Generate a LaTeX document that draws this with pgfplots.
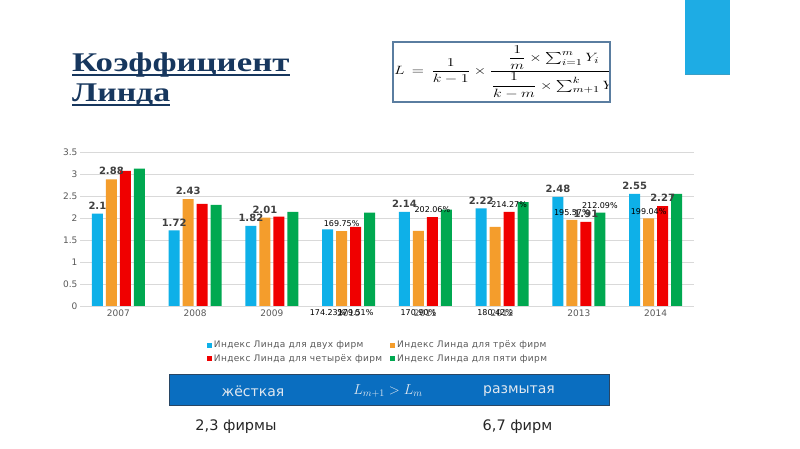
\documentclass[border=0pt]{standalone}
\usepackage{amsmath}
\usepackage{fontspec}
\setmainfont{DejaVu Sans}
\newfontfamily\titlefont{Liberation Serif}
\newfontfamily\legfont[LetterSpace=4]{DejaVu Sans}
\usepackage{pgfplots}
\pgfplotsset{compat=1.18}
\usepackage{pgfplotstable}

\definecolor{cblue}{RGB}{14,176,232}
\definecolor{corange}{RGB}{244,157,44}
\definecolor{cred}{RGB}{240,0,0}
\definecolor{cgreen}{RGB}{0,168,80}
\definecolor{gridgray}{RGB}{217,217,217}
\definecolor{tickgray}{RGB}{89,89,89}
\definecolor{labgray}{RGB}{64,64,64}
\definecolor{titleblue}{RGB}{23,55,94}
\definecolor{boxedge}{RGB}{90,125,160}
\definecolor{bandblue}{RGB}{10,110,192}
\definecolor{bandedge}{RGB}{40,70,100}
\definecolor{bandtext}{RGB}{225,232,240}
\definecolor{cornerblue}{RGB}{30,172,228}

% label styles used inside the tables
\protected\def\LB#1{{\fontsize{10}{10}\bfseries\color{labgray}#1}}
\protected\def\LP#1{{\fontsize{8}{8}\selectfont\color{black}#1\%}}

\pgfplotstableread{
x y top bot
0 2.10 \LB{2.1} {}
1 1.72 \LB{1.72} {}
2 1.82 \LB{1.82} {}
3 1.74 {} \LP{174.23}
4 2.14 \LB{2.14} {}
5 2.22 \LB{2.22} {}
6 2.48 \LB{2.48} {}
7 2.55 \LB{2.55} {}
}\tabtwo
\pgfplotstableread{
x y top bot
0 2.88 \LB{2.88} {}
1 2.43 \LB{2.43} {}
2 2.01 \LB{2.01} {}
3 1.70 \LP{169.75} {}
4 1.71 {} \LP{170.90}
5 1.80 {} \LP{180.42}
6 1.96 \LP{195.57} {}
7 1.99 \LP{199.04} {}
}\tabthree
\pgfplotstableread{
x y top bot
0 3.07 {} {}
1 2.32 {} {}
2 2.03 {} {}
3 1.80 {} \LP{179.51}
4 2.02 \LP{202.06} {}
5 2.14 \LP{214.27} {}
6 1.91 \LB{1.91} {}
7 2.27 \LB{2.27} {}
}\tabfour
\pgfplotstableread{
x y top bot
0 3.12 {} {}
1 2.30 {} {}
2 2.14 {} {}
3 2.12 {} {}
4 2.19 {} {}
5 2.36 {} {}
6 2.12 \LP{212.09} {}
7 2.55 {} {}
}\tabfive

\begin{document}
\begin{tikzpicture}[x=1pt,y=1pt]
\path[fill=white,use as bounding box] (0,0) rectangle (800,449);

% corner block
\fill[cornerblue] (685,374) rectangle (730,449);
\draw[cornerblue!70!gray, line width=1pt] (685,374.5) -- (730,374.5);

% title (the slide is stretched sideways)
\node[anchor=base west, inner sep=0, text=titleblue,
  font=\titlefont\bfseries\fontsize{27}{30}\selectfont] (t1) at (72,377)
  {\scalebox{1.29}[1]{Коэффициент}};
\node[anchor=base west, inner sep=0, text=titleblue,
  font=\titlefont\bfseries\fontsize{27}{30}\selectfont] (t2) at (72,347)
  {\scalebox{1.25}[1]{Линда}};
\fill[titleblue] (72,373) rectangle (t1.east |- 0,375);
\fill[titleblue] (72,343) rectangle (t2.east |- 0,345);

% formula box
\begin{scope}
\clip (393,347) rectangle (610,407);
\node[anchor=west, inner sep=0, font=\fontsize{13}{15}\selectfont] at (394,377)
  {\scalebox{1.33}[1]{$L \,=\, \dfrac{1}{k-1}\times\dfrac{\dfrac{1}{m}\times\sum_{i=1}^{m}Y_i}{\dfrac{1}{k-m}\times\sum_{m+1}^{k}Y_i}$}};
\end{scope}
\draw[boxedge, line width=1.5pt] (393,347) rectangle (610,407);

\begin{axis}[
  at={(80pt,143pt)}, anchor=south west,
  scale only axis, width=614pt, height=154pt,
  xmin=-0.5, xmax=7.5, ymin=0, ymax=3.5,
  clip=false,
  axis line style={draw=none},
  tick style={draw=none},
  ymajorgrids, grid style={gridgray, line width=0.8pt},
  ytick={0,0.5,...,3.5},
  xtick={0,...,7},
  xticklabels={2007,2008,2009,2010,2011,2012,2013,2014},
  /pgf/number format/assume math mode=true,
  ticklabel style={font=\fontsize{9}{9}\selectfont, text=tickgray},
  yticklabel style={xshift=1pt},
  legend columns=2,
  legend style={at={(axis description cs:0.2015,-0.2)}, anchor=north west,
    draw=none, fill=none, font=\legfont\fontsize{9}{10}\selectfont, text=tickgray,
    /tikz/every even column/.append style={column sep=6pt},
    row sep=1pt, cells={anchor=west}},
  nodes near coords={\pgfplotspointmeta},
  point meta=explicit symbolic,
  every node near coord/.append style={inner xsep=0pt, inner ysep=4pt},
]
\addplot[ybar, bar width=11pt, bar shift=-21pt, fill=cblue, draw=none,
  every node near coord/.append style={xshift=-21pt},
  legend image code/.code={\fill[cblue] (0pt,-2.5pt) rectangle (5pt,2.5pt);}]
  table[x=x, y=y, meta=top] {\tabtwo};
\addlegendentry{Индекс Линда для двух фирм}
\addplot[ybar, bar width=11pt, bar shift=-7pt, fill=corange, draw=none,
  every node near coord/.append style={xshift=-7pt},
  legend image code/.code={\fill[corange] (0pt,-2.5pt) rectangle (5pt,2.5pt);}]
  table[x=x, y=y, meta=top] {\tabthree};
\addlegendentry{Индекс Линда для трёх фирм}
\addplot[ybar, bar width=11pt, bar shift=7pt, fill=cred, draw=none,
  every node near coord/.append style={xshift=7pt},
  legend image code/.code={\fill[cred] (0pt,-2.5pt) rectangle (5pt,2.5pt);}]
  table[x=x, y=y, meta=top] {\tabfour};
\addlegendentry{Индекс Линда для четырёх фирм}
\addplot[ybar, bar width=11pt, bar shift=21pt, fill=cgreen, draw=none,
  every node near coord/.append style={xshift=21pt},
  legend image code/.code={\fill[cgreen] (0pt,-2.5pt) rectangle (5pt,2.5pt);}]
  table[x=x, y=y, meta=top] {\tabfive};
\addlegendentry{Индекс Линда для пяти фирм}

% labels that sit at the foot of the bars
\addplot[draw=none, mark=none, forget plot, nodes near coords align={center},
  every node near coord/.append style={xshift=-21pt, yshift=-7pt}]
  table[x=x, y expr=0, meta=bot] {\tabtwo};
\addplot[draw=none, mark=none, forget plot, nodes near coords align={center},
  every node near coord/.append style={xshift=-7pt, yshift=-7pt}]
  table[x=x, y expr=0, meta=bot] {\tabthree};
\addplot[draw=none, mark=none, forget plot, nodes near coords align={center},
  every node near coord/.append style={xshift=7pt, yshift=-7pt}]
  table[x=x, y expr=0, meta=bot] {\tabfour};
\end{axis}

% band
\draw[fill=bandblue, draw=bandedge, line width=1pt] (169,43.5) rectangle (609,74);
\node[text=bandtext, font=\fontsize{14}{15}\selectfont] at (253,58) {жёсткая};
\node[text=bandtext, font=\fontsize{14}{15}\selectfont] at (388,58) {$L_{m+1} > L_m$};
\node[text=bandtext, font=\fontsize{14}{15}\selectfont] at (519,58) {размытая};
\node[text=black!85, font=\fontsize{14.5}{16}\selectfont] at (236,22) {2,3 фирмы};
\node[text=black!85, font=\fontsize{14.5}{16}\selectfont] at (517.5,22) {6,7 фирм};
\end{tikzpicture}
\end{document}
